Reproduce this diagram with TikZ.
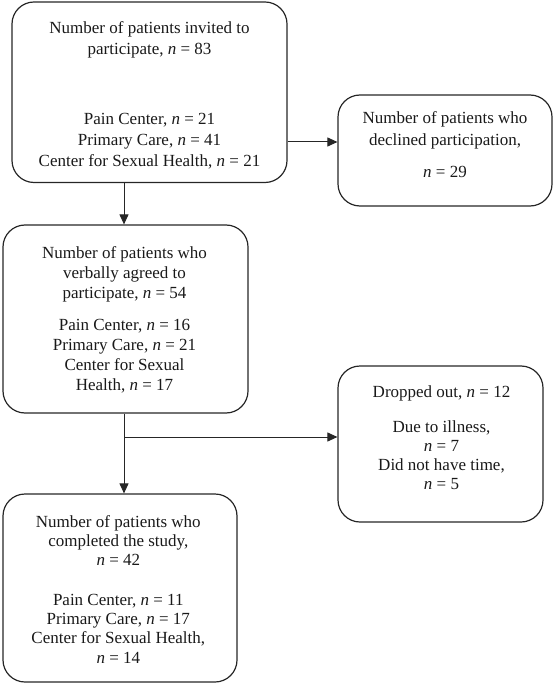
\documentclass[tikz,border=0pt]{standalone}
\usepackage{fontspec}
\setmainfont{Liberation Serif}
\usetikzlibrary{arrows.meta}
\newcommand{\nn}{\textit{n}}
\begin{document}
\begin{tikzpicture}[x=1pt,y=-1pt,
  flowbox/.style={draw=black!85, line width=1.2pt, rounded corners=22pt, minimum width=#1, inner sep=0pt},
  txt/.style={anchor=north, align=center, inner sep=0pt, text=black!90},
  arr/.style={draw=black!85, line width=1pt, -{Triangle[length=10pt,width=9pt]}}]
\useasboundingbox (0,0) rectangle (553,684);

% boxes
\node[flowbox=275pt, minimum height=180.5pt] (b1) at (149.5,92.25) {};
\node[flowbox=214pt, minimum height=111pt] (b2) at (445,150.5) {};
\node[flowbox=245pt, minimum height=188pt] (b3) at (125.5,319) {};
\node[flowbox=205pt, minimum height=156pt] (b4) at (440.5,444) {};
\node[flowbox=234pt, minimum height=188pt] (b5) at (120,588) {};

% texts
\node[txt, font=\fontsize{17}{21}\selectfont] (t1) at (149.5,18.6)
  {\strut Number of patients invited to\\\strut participate, \nn{} = 83\\[48.7pt]
   \strut Pain Center, \nn{} = 21\\\strut Primary Care, \nn{} = 41\\\strut Center for Sexual Health, \nn{} = 21};
\node[txt, font=\fontsize{17}{21.7}\selectfont] (t2) at (445,108.1)
  {\strut Number of patients who\\\strut declined participation,\\[10.6pt]\strut \nn{} = 29};
\node[txt, font=\fontsize{17}{19.9}\selectfont] (t3) at (124.5,244.4)
  {\strut Number of patients who\\\strut verbally agreed to\\\strut participate, \nn{} = 54\\[12.5pt]
   \strut Pain Center, \nn{} = 16\\\strut Primary Care, \nn{} = 21\\\strut Center for Sexual\\\strut Health, \nn{} = 17};
\node[txt, font=\fontsize{17}{19.3}\selectfont] (t4) at (441.5,383.5)
  {\strut Dropped out, \nn{} = 12\\[15.5pt]
   \strut Due to illness,\\\strut \nn{} = 7\\\strut Did not have time,\\\strut \nn{} = 5};
\node[txt, font=\fontsize{17}{19.3}\selectfont] (t5) at (118.3,513.5)
  {\strut Number of patients who\\\strut completed the study,\\\strut \nn{} = 42\\[20pt]
   \strut Pain Center, \nn{} = 11\\\strut Primary Care, \nn{} = 17\\\strut Center for Sexual Health,\\\strut \nn{} = 14};

% connectors
\coordinate (h1) at (0,142);
\coordinate (v1) at (124,0);
\coordinate (j) at (124,437);
\draw[arr] (h1 -| b1.east) -- (h1 -| b2.west);
\draw[arr] (v1 |- b1.south) -- (v1 |- b3.north);
\draw[arr] (v1 |- b3.south) -- (v1 |- b5.north);
\draw[arr] (j) -- (j -| b4.west);
\end{tikzpicture}
\end{document}
